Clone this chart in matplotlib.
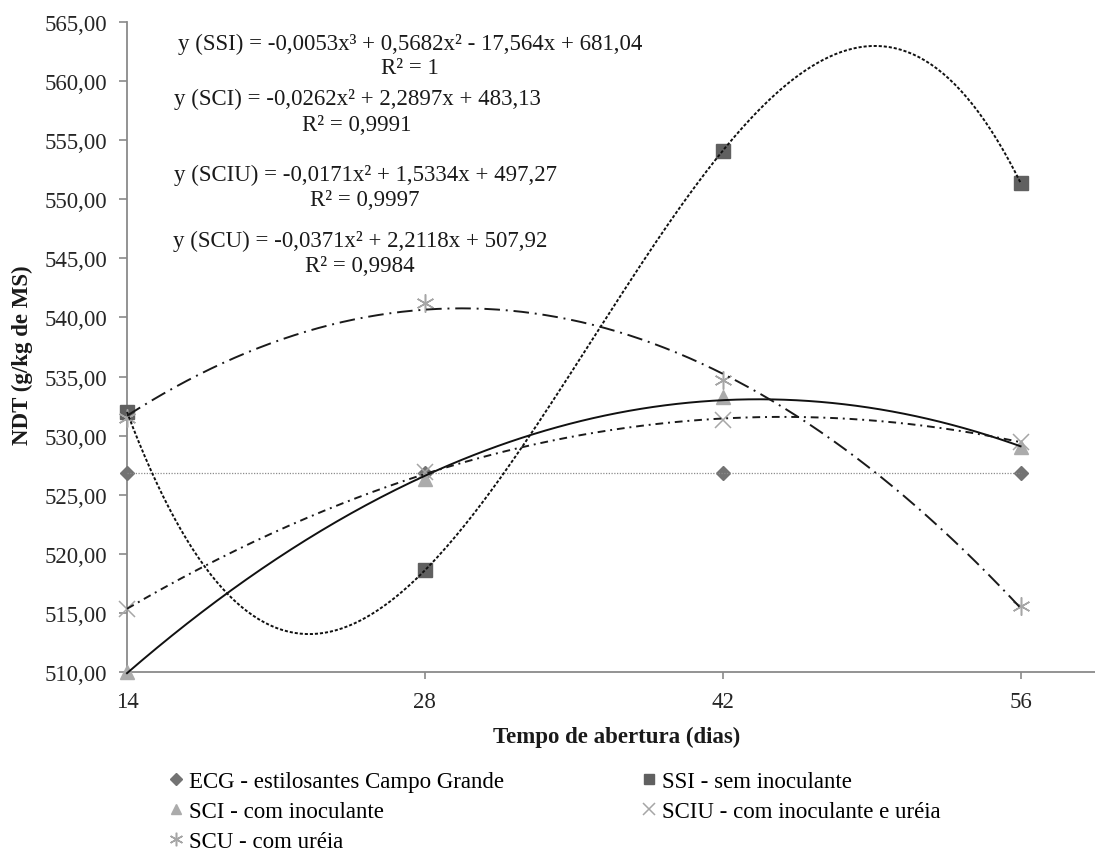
import numpy as np
import matplotlib.pyplot as plt
from matplotlib.ticker import FuncFormatter

plt.rcParams['font.family'] = ['Liberation Serif', 'DejaVu Serif']

# opening time (days) and NDT values
dias = [14, 28, 42, 56]
ecg = [526.8, 526.8, 526.8, 526.8]
ssi = [532.0, 518.6, 554.1, 551.4]
sci = [510.0, 526.3, 533.3, 529.0]
sciu = [515.3, 526.9, 531.3, 529.5]
scu = [531.5, 541.2, 534.7, 515.6]

labels = ["ECG - estilosantes Campo Grande", "SSI - sem inoculante",
          "SCI - com inoculante", "SCIU - com inoculante e uréia",
          "SCU - com uréia"]

equations = [
    ("y (SSI) = -0,0053x³ + 0,5682x² - 17,564x + 681,04", "R² = 1"),
    ("y (SCI) = -0,0262x² + 2,2897x + 483,13", "R² = 0,9991"),
    ("y (SCIU) = -0,0171x² + 1,5334x + 497,27", "R² = 0,9997"),
    ("y (SCU) = -0,0371x² + 2,2118x + 507,92", "R² = 0,9984"),
]

W, H = 1095, 854
FS = 16.5
fig = plt.figure(figsize=(W / 100, H / 100), dpi=100)
ax = fig.add_axes([127 / W, 1 - 673 / H, 1 - 127 / W, (673 - 23) / H])

# (values, trend degree, marker, marker kw, trend line kw)
series = [
    (ecg, 1, "D", dict(ms=7.5, color="#737373"),
     dict(color="#8c8c8c", lw=0.9, ls=(0, (1, 1.2)))),
    (ssi, 3, "s", dict(ms=10, color="#606060"),
     dict(color="#111111", lw=1.4, ls=(0, (1.6, 1.0)))),
    (sci, 2, "^", dict(ms=10, color="#ababab"),
     dict(color="#111111", lw=1.4, ls="-")),
    (sciu, 2, "x", dict(ms=11, color="#a6a6a6", mew=1.1),
     dict(color="#1a1a1a", lw=1.4, ls=(0, (4, 2.5, 1, 2.5)))),
    (scu, 2, (6, 2, 0), dict(ms=13, color="#a6a6a6", mew=1.1),
     dict(color="#1a1a1a", lw=1.4, ls=(0, (8, 3, 1, 3)))),
]

xs = np.linspace(dias[0], dias[-1], 300)
handles = []
for vals, deg, mk, mkw, lkw in series:
    h, = ax.plot(dias, vals, ls="none", marker=mk, zorder=3, clip_on=False, **mkw)
    handles.append(h)
    coef = np.polyfit(dias, vals, deg)
    ax.plot(xs, np.polyval(coef, xs), zorder=4, clip_on=False, **lkw)

ax.set_xlim(14, 59.5)
ax.set_ylim(510, 565)
ax.set_xticks(dias)
ax.set_yticks(np.arange(510, 566, 5))
ax.yaxis.set_major_formatter(FuncFormatter(lambda v, p: f"{v:.2f}".replace(".", ",")))
for s in ["top", "right"]:
    ax.spines[s].set_visible(False)
for s in ["left", "bottom"]:
    ax.spines[s].set_color("#8a8a8a")
    ax.spines[s].set_linewidth(1.3)
ax.tick_params(axis="y", length=6, width=1.2, color="#8a8a8a", pad=8,
               labelsize=FS, labelcolor="#262626")
ax.tick_params(axis="x", length=5, width=1.2, color="#8a8a8a", pad=9,
               labelsize=FS, labelcolor="#262626")

# trendline labels (centre x, eq y, R² y) in pixels
eq_pos = [(410, 44, 69), (357, 99, 126), (365, 175, 201), (360, 241, 267)]
for (eq, r2), (cx, y1, y2) in zip(equations, eq_pos):
    fig.text(cx / W, 1 - y1 / H, eq, ha="center", va="center", fontsize=FS, color="#1a1a1a")
    fig.text(cx / W, 1 - y2 / H, r2, ha="center", va="center", fontsize=FS, color="#1a1a1a")

fig.text(617 / W, 1 - 737 / H, "Tempo de abertura (dias)", ha="center", va="center",
         fontsize=FS, fontweight="bold", color="#1a1a1a")
fig.text(22 / W, 1 - 355 / H, "NDT (g/kg de MS)", ha="center", va="center",
         rotation=90, fontsize=FS, fontweight="bold", color="#1a1a1a")

order = [0, 2, 4, 1, 3]
fig.legend([handles[i] for i in order], [labels[i] for i in order],
           loc="upper left", bbox_to_anchor=(168 / W, 1 - 772 / H), ncol=2,
           frameon=False, fontsize=FS, handlelength=0.7, handletextpad=0.2,
           labelspacing=0.4, columnspacing=6.0, borderpad=0, borderaxespad=0,
           markerscale=0.75)

fig.savefig("out.png", dpi=100)
